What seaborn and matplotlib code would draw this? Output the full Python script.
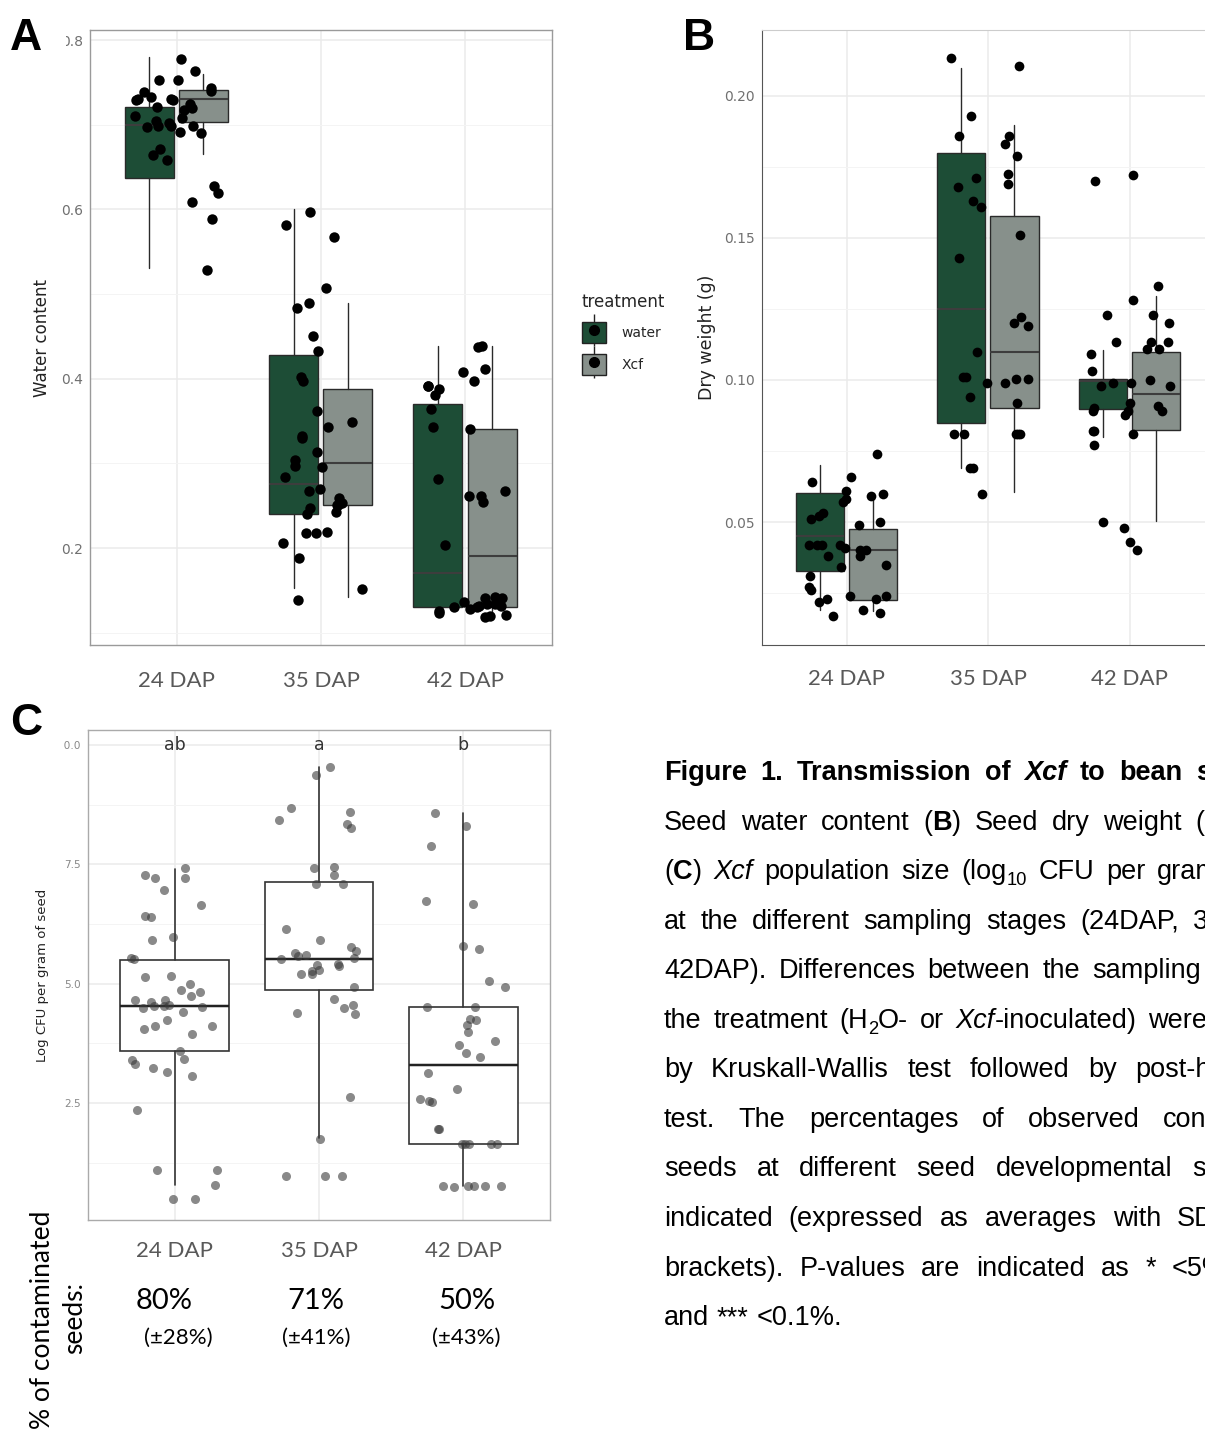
import numpy as np
import pandas as pd
import matplotlib
matplotlib.use("Agg")
import matplotlib.pyplot as plt
import seaborn as sns
from matplotlib.patches import Patch, Rectangle
from matplotlib.lines import Line2D
from matplotlib.legend_handler import HandlerTuple

np.random.seed(3)

# ---------------- data ----------------
STAGES = ["24 DAP", "35 DAP", "42 DAP"]
TREATMENTS = ["water", "Xcf"]

# Panel A: water content (all jittered points per stage)
A_24 = [0.778, 0.763, 0.753, 0.753, 0.744, 0.740, 0.739, 0.733, 0.731, 0.730, 0.729, 0.729,
        0.724, 0.721, 0.720, 0.717, 0.710, 0.708, 0.705, 0.702, 0.699, 0.699, 0.698, 0.697,
        0.691, 0.690, 0.671, 0.664, 0.658, 0.628, 0.620, 0.609, 0.589, 0.529]
A_35 = [0.597, 0.582, 0.568, 0.507, 0.490, 0.484, 0.451, 0.433, 0.402, 0.397, 0.362, 0.349,
        0.343, 0.332, 0.330, 0.314, 0.304, 0.297, 0.296, 0.284, 0.270, 0.267, 0.259, 0.253,
        0.251, 0.251, 0.247, 0.242, 0.240, 0.219, 0.218, 0.218, 0.206, 0.188, 0.152, 0.139]
A_42 = [0.439, 0.438, 0.412, 0.408, 0.397, 0.391, 0.391, 0.388, 0.381, 0.364, 0.343, 0.341,
        0.281, 0.267, 0.262, 0.262, 0.254, 0.203, 0.141, 0.142, 0.141, 0.136, 0.134, 0.134,
        0.131, 0.131, 0.130, 0.130, 0.128, 0.125, 0.123, 0.119, 0.120, 0.121]
# box stats: q1, median, q3, lower whisker, upper whisker
A_WATER_BOX = [[0.637, 0.700, 0.7205, 0.531, 0.780],
               [0.240, 0.276, 0.428, 0.153, 0.600],
               [0.130, 0.170, 0.370, 0.125, 0.439]]
A_XCF_BOX = [[0.703, 0.731, 0.741, 0.665, 0.7595],
             [0.2505, 0.301, 0.388, 0.142, 0.489],
             [0.130, 0.1906, 0.3406, 0.125, 0.439]]
A_YTICKS = [0.2, 0.4, 0.6, 0.8]
A_YTICKLABELS = ["0.2", "0.4", "0.6", "0.8"]

# Panel B: dry weight
B_24 = [0.074, 0.066, 0.064, 0.061, 0.060, 0.059, 0.058, 0.057, 0.053, 0.052, 0.051, 0.050,
        0.049, 0.042, 0.042, 0.042, 0.042, 0.040, 0.040, 0.041, 0.038, 0.038, 0.035, 0.034,
        0.031, 0.027, 0.026, 0.024, 0.024, 0.023, 0.022, 0.023, 0.019, 0.018, 0.017]
B_35 = [0.2135, 0.2107, 0.193, 0.186, 0.186, 0.183, 0.179, 0.1725, 0.171, 0.169, 0.168, 0.163,
        0.161, 0.151, 0.143, 0.122, 0.120, 0.119, 0.110, 0.101, 0.101, 0.1005, 0.1005, 0.099,
        0.099, 0.094, 0.092, 0.081, 0.081, 0.081, 0.081, 0.081, 0.069, 0.069, 0.060]
B_42 = [0.172, 0.170, 0.133, 0.128, 0.123, 0.123, 0.120, 0.1135, 0.1135, 0.1135, 0.111, 0.111,
        0.109, 0.103, 0.100, 0.099, 0.099, 0.098, 0.098, 0.092, 0.091, 0.090, 0.089, 0.089,
        0.089, 0.0875, 0.082, 0.082, 0.081, 0.077, 0.050, 0.048, 0.043, 0.040]
B_WATER_BOX = [[0.0326, 0.0451, 0.0601, 0.019, 0.070],
               [0.085, 0.125, 0.180, 0.069, 0.2097],
               [0.0899, 0.0998, 0.1003, 0.080, 0.1104]]
B_XCF_BOX = [[0.0225, 0.0403, 0.0475, 0.0187, 0.059],
             [0.090, 0.110, 0.1576, 0.0604, 0.1896],
             [0.0824, 0.0951, 0.1097, 0.0503, 0.1296]]
B_YTICKS = [0.05, 0.10, 0.15, 0.20]
B_YTICKLABELS = ["0.05", "0.10", "0.15", "0.20"]

# Panel C: log CFU per gram of seed
C_24 = [7.42, 6.95, 7.21, 7.28, 7.22, 6.65, 6.41, 6.39, 5.91, 5.97, 5.54, 5.51, 5.17, 5.13,
        5.00, 4.82, 4.86, 4.75, 4.66, 4.65, 4.55, 4.54, 4.41, 4.49, 4.61, 4.52, 4.54, 4.23,
        4.11, 4.11, 4.06, 3.94, 3.60, 3.42, 3.32, 3.14, 3.40, 3.23, 3.06, 2.36, 1.09, 1.09,
        0.79, 0.49, 0.49]
C_35 = [9.54, 9.36, 8.59, 8.67, 8.34, 8.42, 8.26, 7.45, 7.42, 7.27, 7.08, 7.08, 6.15, 5.92,
        5.77, 5.69, 5.65, 5.58, 5.53, 5.61, 5.51, 5.41, 5.26, 5.37, 5.38, 5.28, 5.21, 5.20,
        4.92, 4.68, 4.50, 4.56, 4.38, 4.36, 2.63, 1.75, 0.97, 0.97, 0.97]
C_42 = [8.58, 8.31, 7.89, 6.72, 6.66, 5.79, 5.72, 5.05, 4.93, 4.51, 4.51, 4.27, 4.23, 4.14,
        3.99, 3.79, 3.71, 3.55, 3.46, 3.12, 2.79, 2.55, 2.52, 2.58, 1.95, 1.95, 1.64, 1.64,
        1.64, 1.64, 1.64, 0.74, 0.76, 0.76, 0.76, 0.76, 0.76]
C_BOX = [[3.595, 4.537, 5.50, 0.79, 7.40],
         [4.858, 5.514, 7.126, 1.767, 9.526],
         [1.642, 3.295, 4.502, 0.756, 8.57]]
C_YTICKS = [2.5, 5.0, 7.5, 10.0]
C_YTICKLABELS = ["2.5", "5.0", "7.5", "10.0"]
C_LETTERS = ["ab", "a", "b"]
PCT_MAIN = ["80%", "71%", "50%"]
PCT_SD = ["(\u00b128%)", "(\u00b141%)", "(\u00b143%)"]

# caption (line by line as laid out, justified)
CAP_LINES = [
    ["Figure", "1.", "Transmission", "of", [("Xcf", "bi")], "to", "bean", "seeds.", "(A)"],
    ["Seed", "water", "content", [("(", "r"), ("B", "b"), (")", "r")], "Seed", "dry", "weight", "(g)"],
    [[("(", "r"), ("C", "b"), (")", "r")], [("Xcf", "i")], "population", "size",
     [("(log", "r"), ("10", "sub")], "CFU", "per", "gram", "of", "seed)"],
    ["at", "the", "different", "sampling", "stages", "(24DAP,", "35DAP", "and"],
    ["42DAP).", "Differences", "between", "the", "sampling", "stages", "and"],
    ["the", "treatment", [("(H", "r"), ("2", "sub"), ("O-", "r")], "or",
     [("Xcf", "i"), ("-inoculated)", "r")], "were", "assessed"],
    ["by", "Kruskall-Wallis", "test", "followed", "by", "post-hoc", "Dunn"],
    ["test.", "The", "percentages", "of", "observed", "contaminated"],
    ["seeds", "at", "different", "seed", "developmental", "stages", "are"],
    ["indicated", "(expressed", "as", "averages", "with", "SD", "in"],
    ["brackets).", "P-values", "are", "indicated", "as", "*", "<5%,", "**", "<1%"],
    ["and", "***", "<0.1%."],
]
CAP_DEFAULT = ["b"] + ["r"] * 11
CAP_ANCHORS = [(7, 1196), (7, 1195), (7, 1157), (6, 1193), (4, 1092), (5, 1148),
               (5, 1135), (5, 1163), (5, 1192), (5, 1177), (6, 1172), None]

# ---------------- style ----------------
GREEN = "#1D4D36"
GRAY = "#87908B"
W, H = 1205, 1429

sns.set_style("white")
plt.rcParams["font.family"] = ["DejaVu Sans"]

fig = plt.figure(figsize=(W / 100, H / 100), dpi=100)
fig.patch.set_facecolor("white")


def fx(x):
    return x / W


def fy(y):
    return 1 - y / H


def axes_px(l, t, r, b):
    return fig.add_axes([fx(l), fy(b), (r - l) / W, (b - t) / H])


def long_df(groups):
    return pd.DataFrame({"stage": np.repeat(STAGES, [len(g) for g in groups]),
                         "value": np.concatenate(groups)})


def draw_boxes(ax, stats, positions, width, face, edge, med, lw):
    st = [dict(q1=s[0], med=s[1], q3=s[2], whislo=s[3], whishi=s[4], fliers=[]) for s in stats]
    ax.bxp(st, positions=positions, widths=width, patch_artist=True, showcaps=False,
           showfliers=False, manage_ticks=False,
           boxprops=dict(facecolor=face, edgecolor=edge, linewidth=lw),
           whiskerprops=dict(color=edge, linewidth=lw),
           medianprops=dict(color=med, linewidth=lw * 1.5))


def style_axes(ax, ylim, yticks, yticklabels, ytick_fs, ytick_col, xpad, ticklen_x):
    ax.set_xlim(-0.6, 2.6)
    ax.set_ylim(*ylim)
    ax.set_yticks(yticks)
    ax.set_yticklabels(yticklabels, fontsize=ytick_fs, color=ytick_col)
    step = yticks[1] - yticks[0]
    minors = [v - step / 2 for v in yticks] + [yticks[-1] + step / 2]
    ax.set_yticks([m for m in minors if ylim[0] < m < ylim[1]], minor=True)
    ax.tick_params(axis="y", which="minor", length=0)
    ax.tick_params(axis="y", which="major", length=3, color="#333333", width=0.8, pad=2)
    ax.set_xticks([0, 1, 2])
    ax.set_xticklabels(STAGES, fontfamily="Lato", fontsize=16, color="#595959")
    ax.tick_params(axis="x", length=ticklen_x, color="#333333", pad=xpad)
    ax.grid(True, which="major", color="#EBEBEB", lw=1.1)
    ax.grid(True, which="minor", axis="y", color="#F4F4F4", lw=0.7)
    ax.set_axisbelow(True)
    ax.set_xlabel("")
    ax.set_facecolor("white")


# ---------------- Panel A ----------------
axA = axes_px(90, 30, 552, 645)
sns.stripplot(data=long_df([A_24, A_35, A_42]), x="stage", y="value", order=STAGES,
              jitter=0.3, color="black", size=7.5, linewidth=0, ax=axA, zorder=4)
draw_boxes(axA, A_WATER_BOX, np.arange(3) - 0.19, 0.34, GREEN, "#2a2a2a", "#3d3d3d", 1.0)
draw_boxes(axA, A_XCF_BOX, np.arange(3) + 0.185, 0.34, GRAY, "#2a2a2a", "#3d3d3d", 1.0)
style_axes(axA, (0.0854, 0.812), A_YTICKS, A_YTICKLABELS, 10, "#707070", 18.5, 0)
axA.set_ylabel("Water content", fontsize=12, color="#222222", va="center")
axA.yaxis.set_label_coords((42 - 90) / 462, 0.5)
for s in axA.spines.values():
    s.set_color("#9A9A9A")
    s.set_linewidth(1.0)

# legend
handles = []
for col in [GREEN, GRAY]:
    handles.append((Line2D([], [], ls="", marker="|", markersize=23, markeredgewidth=1.0, color="#222222"),
                    Patch(facecolor=col, edgecolor="#222222", linewidth=1.0),
                    Line2D([], [], ls="", marker="o", markersize=7, color="black")))
fig.legend(handles, TREATMENTS, handler_map={tuple: HandlerTuple(ndivide=1, pad=0)},
           title="treatment", loc="upper left", bbox_to_anchor=(fx(582), fy(293)),
           frameon=False, fontsize=10, title_fontsize=12, handlelength=1.75,
           handleheight=1.9, labelspacing=0.82, handletextpad=1.1, alignment="left",
           borderpad=0, borderaxespad=0)

# ---------------- Panel B ----------------
axB = axes_px(762, 30, 1214.6, 645)
sns.stripplot(data=long_df([B_24, B_35, B_42]), x="stage", y="value", order=STAGES,
              jitter=0.3, color="black", size=7, linewidth=0, ax=axB, zorder=4)
draw_boxes(axB, B_WATER_BOX, np.arange(3) - 0.19, 0.34, GREEN, "#2a2a2a", "#3d3d3d", 1.0)
draw_boxes(axB, B_XCF_BOX, np.arange(3) + 0.185, 0.34, GRAY, "#2a2a2a", "#3d3d3d", 1.0)
style_axes(axB, (0.0067, 0.2232), B_YTICKS, B_YTICKLABELS, 10, "#707070", 13.5, 4)
axB.set_ylabel("Dry weight (g)", fontsize=12.5, color="#222222", va="center")
axB.yaxis.set_label_coords((707 - 762) / 452.6, 0.5)
axB.spines["left"].set_color("#555555")
axB.spines["bottom"].set_color("#555555")
axB.spines["top"].set_color("#CCCCCC")
axB.spines["right"].set_color("#CCCCCC")

# ---------------- Panel C ----------------
axC = axes_px(88, 730, 550, 1220)
axC.set_zorder(1)
sns.stripplot(data=long_df([C_24, C_35, C_42]), x="stage", y="value", order=STAGES,
              jitter=0.3, color="#3a3a3a", alpha=0.6, size=6.5, linewidth=0, ax=axC, zorder=4)
draw_boxes(axC, C_BOX, np.arange(3), 0.75, "white", "#333333", "#222222", 1.2)
style_axes(axC, (0.052, 10.31), C_YTICKS, C_YTICKLABELS, 7.6, "#888888", 15, 0)
axC.set_ylabel("Log CFU per gram of seed", fontsize=9.5, color="#222222", va="center")
axC.yaxis.set_label_coords((43 - 88) / 462, 0.5)
for s in axC.spines.values():
    s.set_color("#AAAAAA")
    s.set_linewidth(1.0)
for i, lab in enumerate(C_LETTERS):
    axC.text(i, 10.0, lab, ha="center", va="center", fontsize=12.5, color="#333333")

# percentages under panel C
pct_x = [164, 316, 467]
sd_x = [178, 316, 466]
for i in range(3):
    fig.text(fx(pct_x[i]), fy(1301), PCT_MAIN[i], ha="center", va="center",
             fontfamily="Lato", fontsize=21, color="black")
    fig.text(fx(sd_x[i]), fy(1338), PCT_SD[i], ha="center", va="center",
             fontfamily="Lato", fontsize=16, color="black")
fig.text(fx(43), fy(1320), "% of contaminated", rotation=90, ha="center", va="center",
         fontfamily="Lato", fontsize=19, color="black", zorder=-1)
fig.text(fx(75), fy(1318), "seeds:", rotation=90, ha="center", va="center",
         fontfamily="Lato", fontsize=19, color="black", zorder=-1)

# ---------------- panel letters ----------------
for (x0, y0, w0, h0) in [(46, 30, 20, 20), (46, 736, 18, 18)]:
    fig.add_artist(Rectangle((fx(x0), fy(y0 + h0)), w0 / W, h0 / H, transform=fig.transFigure,
                             facecolor="white", edgecolor="none", zorder=10))
for lab, x0, y0 in [("A", 10, 50), ("B", 683, 50), ("C", 10, 735)]:
    fig.text(fx(x0), fy(y0), lab, ha="left", va="baseline", fontfamily="Liberation Sans",
             fontweight="bold", fontsize=32, color="black", zorder=11)

# ---------------- caption ----------------
renderer = fig.canvas.get_renderer()
CAP_FS = 19.5
X0 = 664
STYLE_MAP = {"r": ("normal", "normal", 1.0, 0),
             "b": ("bold", "normal", 1.0, 0),
             "i": ("normal", "italic", 1.0, 0),
             "bi": ("bold", "italic", 1.0, 0),
             "sub": ("normal", "normal", 0.68, 6)}


def make_word(word, default):
    segs = [(word, default)] if isinstance(word, str) else word
    arts = []
    for txt, st in segs:
        wgt, sty, sc, dy = STYLE_MAP[st]
        t = fig.text(0, 0, txt, ha="left", va="baseline", fontfamily="Liberation Sans",
                     fontweight=wgt, fontstyle=sty, fontsize=CAP_FS * sc, color="black")
        w = t.get_window_extent(renderer).width
        arts.append((t, w, dy))
    return arts


space_probe = fig.text(0, 0, "a a", fontfamily="Liberation Sans", fontsize=CAP_FS)
aa_probe = fig.text(0, 0, "aa", fontfamily="Liberation Sans", fontsize=CAP_FS)
SPACE = space_probe.get_window_extent(renderer).width - aa_probe.get_window_extent(renderer).width
space_probe.remove()
aa_probe.remove()

for li, line in enumerate(CAP_LINES):
    base = 771 + li * 49.55 + 9
    words = [make_word(w, CAP_DEFAULT[li]) for w in line]
    widths = [sum(a[1] for a in wd) for wd in words]
    anchor = CAP_ANCHORS[li]
    if anchor is None:
        gap = SPACE
    else:
        k, xa = anchor
        gap = (xa - X0 - sum(widths[:k])) / k
    x = X0
    for wd, wsum in zip(words, widths):
        xs = x
        for t, w, dy in wd:
            t.set_position((fx(xs), fy(base + dy)))
            xs += w
        x += wsum + gap

fig.savefig("out.png", dpi=100, facecolor="white")
